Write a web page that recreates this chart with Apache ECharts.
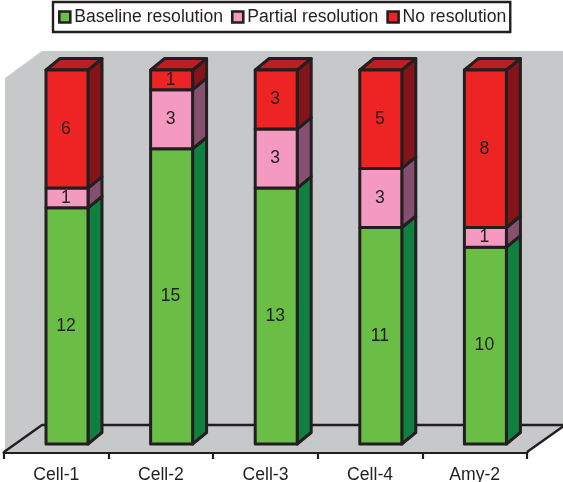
<!DOCTYPE html>
<html>
<head>
<meta charset="utf-8">
<style>html,body{margin:0;padding:0;background:#fff}#c{width:563px;height:482px}</style>
<script src="https://cdn.jsdelivr.net/npm/echarts@6/dist/echarts.min.js"></script>
</head>
<body>
<div id="c"></div>
<script>
var categories = ['Cell-1', 'Cell-2', 'Cell-3', 'Cell-4', 'Amy-2'];
var seriesNames = ['Baseline resolution', 'Partial resolution', 'No resolution'];
var baseline = [12, 15, 13, 11, 10];
var partial = [1, 3, 3, 3, 1];
var none = [6, 1, 3, 5, 8];

var INK = '#231f20';
var FONT = '"Liberation Sans", Arial, sans-serif';
var palettes = [
  { front: '#6abd45', side: '#0f8040', top: '#0f8040' },
  { front: '#f49ac1', side: '#85506f', top: '#85506f' },
  { front: '#ee2324', side: '#85131a', top: '#be1e23' }
];

function renderWall(params, api) {
  var g = params.coordSys, l = g.x, r = g.x + g.width, t = g.y, b = g.y + g.height;
  var dx = 38, dy = 27;
  return {
    type: 'group',
    children: [
      { type: 'polygon', shape: { points: [[l + 1, t], [l + dx, t - dy], [r + dx, t - dy], [r + dx, b - dy], [r, b], [l + 1, b]] },
        style: { fill: '#c7c8ca', stroke: null } },
      { type: 'polyline', shape: { points: [[l, b], [l + dx, b - dy], [r + dx, b - dy], [r, b]] },
        style: { fill: null, stroke: INK, lineWidth: 2.4, lineJoin: 'round' } }
    ]
  };
}

function segmentRenderer(pal, isTop) {
  return function (params, api) {
    var idx = api.value(0), val = api.value(1), base = api.value(2);
    var offX = 10.7, offY = -8, halfW = 21, ddx = 14, ddy = -11.5;
    var c = api.coord([idx, base]), c2 = api.coord([idx, base + val]);
    var x0 = c[0] + offX - halfW, x1 = c[0] + offX + halfW;
    var yb = c[1] + offY, yt = c2[1] + offY;
    var line = { stroke: INK, lineWidth: 3, lineJoin: 'round' };
    function st(fill) { return Object.assign({ fill: fill }, line); }
    var kids = [
      { type: 'polygon', shape: { points: [[x1, yb], [x1 + ddx, yb + ddy], [x1 + ddx, yt + ddy], [x1, yt]] }, style: st(pal.side) }
    ];
    if (isTop) {
      kids.push({ type: 'polygon', shape: { points: [[x0, yt], [x0 + ddx, yt + ddy], [x1 + ddx, yt + ddy], [x1, yt]] }, style: st(pal.top) });
    }
    kids.push({ type: 'rect', shape: { x: x0, y: yt, width: x1 - x0, height: yb - yt }, style: st(pal.front) });
    kids.push({ type: 'text', x: (x0 + x1) / 2 - 1, y: (yt + yb) / 2,
      style: { text: String(val), fill: INK, font: '17.6px ' + FONT, align: 'center', verticalAlign: 'middle' } });
    return { type: 'group', children: kids };
  };
}

var stacks = [baseline, partial, none];
var series = [{
  type: 'custom', name: 'wall', silent: true, z: 1, renderItem: renderWall, data: [[0, 0]],
  encode: { x: 0, y: 1 }, animation: false
}];
stacks.forEach(function (vals, s) {
  var rows = vals.map(function (v, i) {
    var base = 0;
    for (var k = 0; k < s; k++) base += stacks[k][i];
    return [i, v, base];
  });
  series.push({
    type: 'custom', name: seriesNames[s], z: 2 + s, animation: false,
    renderItem: segmentRenderer(palettes[s], s === 2),
    itemStyle: { color: palettes[s].front, borderColor: INK, borderWidth: 2.4 },
    encode: { x: 0, y: 1 }, data: rows
  });
});

var chart = echarts.init(document.getElementById('c'));
chart.setOption({
  animation: false,
  backgroundColor: '#ffffff',
  legend: {
    data: seriesNames, left: 53, top: 2, width: 460, orient: 'horizontal',
    backgroundColor: '#fff', borderColor: INK, borderWidth: 2.4, borderRadius: 0,
    padding: [6, 4, 6, 5], itemGap: 8, itemWidth: 11, itemHeight: 11, icon: 'rect',
    selectedMode: false,
    itemStyle: { borderColor: INK, borderWidth: 2.6 },
    textStyle: { fontFamily: FONT, fontSize: 17.6, color: INK, padding: [0, 0, 0, -1] }
  },
  grid: { left: 4, right: 36, top: 78, bottom: 30, containLabel: false, outerBoundsMode: 'none' },
  xAxis: {
    type: 'category', data: categories, boundaryGap: true,
    axisLine: { show: true, lineStyle: { color: INK, width: 3 } },
    axisTick: { show: true, length: 7, lineStyle: { color: INK, width: 2.2 } },
    axisLabel: { fontFamily: FONT, fontSize: 17.6, color: INK, margin: 14 },
    splitLine: { show: false }
  },
  yAxis: { type: 'value', min: 0, max: 19, interval: 19, show: false, splitLine: { show: false } },
  series: series
});
</script>
</body>
</html>
